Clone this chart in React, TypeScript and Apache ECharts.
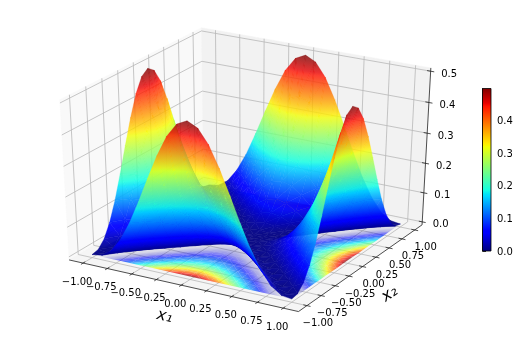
import React, { useEffect, useRef } from "react";
import * as echarts from "echarts";

// Surface heights in thousandths. One list per |x1| step of 0.1, x2 running -1..1.
const rowAt00 = [500,376,274,191,126,77,42,19,6,1,0,1,6,19,42,77,126,191,274,376,500];
const rowAt01 = [484,363,262,180,117,69,36,14,3,0,1,0,3,14,36,69,117,180,262,363,484];
const rowAt02 = [440,324,228,151,92,49,20,5,0,3,6,3,0,5,20,49,92,151,228,324,440];
const rowAt03 = [373,267,180,111,60,26,6,0,5,14,19,14,5,0,6,26,60,111,180,267,373];
const rowAt04 = [294,201,126,69,30,7,0,6,20,36,42,36,20,6,0,7,30,69,126,201,294];
const rowAt05 = [211,135,75,33,8,0,7,26,49,69,77,69,49,26,7,0,8,33,75,135,211];
const rowAt06 = [134,77,34,9,0,8,30,60,92,117,126,117,92,60,30,8,0,9,34,77,134];
const rowAt07 = [72,34,9,0,9,33,69,111,151,180,191,180,151,111,69,33,9,0,9,34,72];
const rowAt08 = [28,8,0,9,34,75,126,180,228,262,274,262,228,180,126,75,34,9,0,8,28];
const rowAt09 = [5,0,8,34,77,135,201,267,324,363,376,363,324,267,201,135,77,34,8,0,5];
const rowAt10 = [0,5,28,72,134,211,294,373,440,484,500,484,440,373,294,211,134,72,28,5,0];
const zRows = [rowAt10,rowAt09,rowAt08,rowAt07,rowAt06,rowAt05,rowAt04,rowAt03,rowAt02,rowAt01,rowAt00,
  rowAt01,rowAt02,rowAt03,rowAt04,rowAt05,rowAt06,rowAt07,rowAt08,rowAt09,rowAt10];
const gridValues = [-1,-0.9,-0.8,-0.7,-0.6,-0.5,-0.4,-0.3,-0.2,-0.1,0,0.1,0.2,0.3,0.4,0.5,0.6,0.7,0.8,0.9,1];

const xyTicks = [-1,-0.75,-0.5,-0.25,0,0.25,0.5,0.75,1];
const xyTickLabels = ["\u22121.00","\u22120.75","\u22120.50","\u22120.25","0.00","0.25","0.50","0.75","1.00"];
const zTicks = [0,0.1,0.2,0.3,0.4,0.5];
const zTickLabels = ["0.0","0.1","0.2","0.3","0.4","0.5"];
const colorbarTicks = [0,0.1,0.2,0.3,0.4];
const zMax = 0.4985;

const FONT = "'DejaVu Sans'";

// 3D view (elevation 30, azimuth -60)
const depth = (bx: number, by: number, bz: number) => 0.433013 * bx - 0.75 * by + 0.5 * bz;
const project = (bx: number, by: number, bz: number) => {
  const a = 0.866025 * bx + 0.5 * by;
  const b = -0.25 * bx + 0.433013 * by + 0.866025 * bz;
  const f = 10 / (10 - depth(bx, by, bz));
  return [248.3 + 264.8 * a * f, 164.8 - 183 * b * f];
};
const boxXY = (v: number) => v / 2.292;
const boxZ = (z: number) => (z + 0.0104) / 0.5208 - 0.5;

const ramp = (t: number, knots: number[][]) => {
  if (t <= knots[0][0]) return knots[0][1];
  for (let i = 1; i < knots.length; i++) {
    if (t <= knots[i][0]) {
      const [t0, v0] = knots[i - 1];
      const [t1, v1] = knots[i];
      return v0 + ((v1 - v0) * (t - t0)) / (t1 - t0);
    }
  }
  return knots[knots.length - 1][1];
};
const R = [[0,0],[0.35,0],[0.66,1],[0.89,1],[1,0.5]];
const G = [[0,0],[0.125,0],[0.375,1],[0.64,1],[0.91,0],[1,0]];
const B = [[0,0.5],[0.11,1],[0.34,1],[0.65,0],[1,0]];
const jetKnots = [0,0.11,0.125,0.34,0.35,0.375,0.64,0.65,0.66,0.89,0.91,1];
const jetColor = (t: number, alpha: number) =>
  `rgba(${Math.round(255 * ramp(t, R))},${Math.round(255 * ramp(t, G))},${Math.round(255 * ramp(t, B))},${alpha})`;

const surfaceAlpha = (z: number) => (z < 0.08 ? 0.94 : z > 0.25 ? 0.8 : 0.94 - (0.14 * (z - 0.08)) / 0.17);
const floorAlpha = (z: number) => (z < 0.08 ? 0.06 + (0.64 * z) / 0.08 : 0.7);

type Tri = { pts: number[][]; zs: number[]; d: number };

const triFill = (t: Tri, alphaOf: (z: number) => number, extra: number[]) => {
  const [p0, p1, p2] = t.pts;
  const [z0, z1, z2] = t.zs;
  const det = (p1[0] - p0[0]) * (p2[1] - p0[1]) - (p2[0] - p0[0]) * (p1[1] - p0[1]);
  const zlo = Math.min(z0, z1, z2);
  const zhi = Math.max(z0, z1, z2);
  if (Math.abs(det) < 1e-6 || zhi - zlo < 1e-6) return jetColor(((z0 + z1 + z2) / 3) / zMax, alphaOf((z0 + z1 + z2) / 3));
  const gx = ((z1 - z0) * (p2[1] - p0[1]) - (z2 - z0) * (p1[1] - p0[1])) / det;
  const gy = ((z2 - z0) * (p1[0] - p0[0]) - (z1 - z0) * (p2[0] - p0[0])) / det;
  const g2 = gx * gx + gy * gy;
  const lo = t.pts[t.zs.indexOf(zlo)];
  const span = zhi - zlo;
  const end = [lo[0] + (gx * span) / g2, lo[1] + (gy * span) / g2];
  const marks = [zlo, zhi];
  jetKnots.forEach((k) => {
    const v = k * zMax;
    if (v > zlo && v < zhi) marks.push(v);
  });
  extra.forEach((v) => {
    if (v > zlo && v < zhi) marks.push(v);
  });
  marks.sort((a, b) => a - b);
  const stops = marks.map((v) => ({ offset: (v - zlo) / span, color: jetColor(v / zMax, alphaOf(v)) }));
  return new (echarts.graphic as any).LinearGradient(lo[0], lo[1], end[0], end[1], stops, true);
};

const buildTris = (flat: boolean) => {
  const out: Tri[] = [];
  const n = gridValues.length;
  const vertex = (ix: number, iy: number) => {
    const z = zRows[iy][ix] / 1000;
    const bx = boxXY(gridValues[ix]);
    const by = boxXY(gridValues[iy]);
    const bz = boxZ(flat ? 0 : z);
    return { p: project(bx, by, bz), z, d: depth(bx, by, bz) };
  };
  for (let iy = 0; iy < n - 1; iy++) {
    for (let ix = 0; ix < n - 1; ix++) {
      const a = vertex(ix, iy);
      const b = vertex(ix + 1, iy);
      const c = vertex(ix + 1, iy + 1);
      const e = vertex(ix, iy + 1);
      // split each cell along its flatter diagonal so the valley creases stay sharp
      const split = Math.abs(a.z - c.z) <= Math.abs(b.z - e.z);
      const groups = split ? [[a, b, c], [a, c, e]] : [[a, b, e], [b, c, e]];
      groups.forEach((g) =>
        out.push({ pts: g.map((v) => v.p), zs: g.map((v) => v.z), d: (g[0].d + g[1].d + g[2].d) / 3 })
      );
    }
  }
  return out.sort((u, v) => u.d - v.d);
};

const line3 = (a: number[], b: number[], stroke: string, lineWidth: number) => {
  const p = project(a[0], a[1], a[2]);
  const q = project(b[0], b[1], b[2]);
  return { type: "line", shape: { x1: p[0], y1: p[1], x2: q[0], y2: q[1] }, style: { stroke, lineWidth, fill: "none" } };
};

const buildBackdrop = () => {
  const e: any[] = [];
  const poly = (c: number[][], fill: string) =>
    e.push({ type: "polygon", shape: { points: c.map((v) => project(v[0], v[1], v[2])) }, style: { fill, stroke: fill, lineWidth: 0.5 } });
  poly([[-0.5,-0.5,-0.5],[-0.5,0.5,-0.5],[-0.5,0.5,0.5],[-0.5,-0.5,0.5]], "#f9f9f9");
  poly([[-0.5,0.5,-0.5],[0.5,0.5,-0.5],[0.5,0.5,0.5],[-0.5,0.5,0.5]], "#f2f2f2");
  poly([[-0.5,-0.5,-0.5],[0.5,-0.5,-0.5],[0.5,0.5,-0.5],[-0.5,0.5,-0.5]], "#f5f5f5");
  const gridC = "#b8b8b8";
  xyTicks.forEach((v) => {
    const t = boxXY(v);
    e.push(line3([t,-0.5,-0.5],[t,0.5,-0.5],gridC,0.8));
    e.push(line3([t,0.5,-0.5],[t,0.5,0.5],gridC,0.8));
    e.push(line3([0.5,t,-0.5],[-0.5,t,-0.5],gridC,0.8));
    e.push(line3([-0.5,t,-0.5],[-0.5,t,0.5],gridC,0.8));
  });
  zTicks.forEach((v) => {
    const t = boxZ(v);
    e.push(line3([-0.5,-0.5,t],[-0.5,0.5,t],gridC,0.8));
    e.push(line3([-0.5,0.5,t],[0.5,0.5,t],gridC,0.8));
  });
  const ax = "#222";
  e.push(line3([-0.5,-0.5,-0.5],[0.5,-0.5,-0.5],ax,0.8));
  e.push(line3([0.5,-0.5,-0.5],[0.5,0.5,-0.5],ax,0.8));
  e.push(line3([0.5,0.5,-0.5],[0.5,0.5,0.5],ax,0.8));
  xyTicks.forEach((v) => {
    const t = boxXY(v);
    e.push(line3([t,-0.515,-0.5],[t,-0.485,-0.5],ax,0.8));
    e.push(line3([0.515,t,-0.5],[0.485,t,-0.5],ax,0.8));
  });
  zTicks.forEach((v) => {
    const t = boxZ(v);
    e.push(line3([0.515,0.5,t],[0.485,0.5,t],ax,0.8));
  });
  return e;
};

const label = (text: string, x: number, y: number, align: string) => ({
  type: "text",
  style: { text, x, y, fill: "#000", fontSize: 10, fontFamily: FONT, textAlign: align, textVerticalAlign: "middle" },
});

const buildLabels = () => {
  const e: any[] = [];
  xyTicks.forEach((v, i) => {
    const t = boxXY(v);
    const p = project(t, -0.5, -0.5);
    e.push(label(xyTickLabels[i], p[0] - 6, p[1] + 18, "center"));
    const q = project(0.5, t, -0.5);
    e.push(label(xyTickLabels[i], q[0] + 11, q[1] + 17, "center"));
  });
  zTicks.forEach((v, i) => {
    const p = project(0.5, 0.5, boxZ(v));
    e.push(label(zTickLabels[i], p[0] + 10.5, p[1] + 2, "left"));
  });
  const axisName = (text: string, x: number, y: number, rotation: number) => ({
    type: "text",
    x,
    y,
    rotation,
    style: { text, x: 0, y: 0, fill: "#000", fontSize: 16, fontFamily: FONT, fontStyle: "italic", textAlign: "center", textVerticalAlign: "middle" },
  });
  e.push(axisName("x\u2081", 165, 315, -0.22));
  e.push(axisName("x\u2082", 389, 293, 0.6));
  return e;
};

const triSeries = (tris: Tri[], alphaOf: (z: number) => number, extra: number[], strokeWidth: number) => ({
  type: "custom",
  coordinateSystem: "none",
  silent: true,
  clip: false,
  progressive: 0,
  data: tris.map((_, i) => [i]),
  renderItem: (params: any) => {
    const t = tris[params.dataIndex];
    const fill = triFill(t, alphaOf, extra);
    return {
      type: "polygon",
      shape: { points: t.pts },
      style: { fill, stroke: fill, lineWidth: strokeWidth },
    };
  },
});

const elementSeries = (list: any[]) => ({
  type: "custom",
  coordinateSystem: "none",
  silent: true,
  clip: false,
  progressive: 0,
  data: list.map((_, i) => [i]),
  renderItem: (params: any) => list[params.dataIndex],
});

export default function App() {
  const ref = useRef<HTMLDivElement>(null);
  useEffect(() => {
    const chart = echarts.init(ref.current!, undefined, { renderer: "svg" });
    const barStops: any[] = [];
    jetKnots.forEach((k) => barStops.push({ offset: k, color: jetColor(k, 1) }));
    chart.setOption({
      animation: false,
      grid: { left: 482.5, top: 88.5, width: 8.5, height: 162.5 },
      xAxis: { type: "value", min: 0, max: 1, show: false },
      yAxis: {
        type: "value",
        position: "right",
        min: 0,
        max: zMax,
        splitLine: { show: false },
        axisLine: { show: true, lineStyle: { color: "#000", width: 0.8 } },
        axisTick: { show: true, length: 3.5, lineStyle: { color: "#000", width: 0.8 }, customValues: colorbarTicks },
        axisLabel: {
          color: "#000",
          fontSize: 10,
          fontFamily: FONT,
          margin: 6,
          customValues: colorbarTicks,
          formatter: (v: number) => v.toFixed(1),
        },
      },
      series: [
        elementSeries(buildBackdrop()),
        triSeries(buildTris(true), floorAlpha, [0.08], 0),
        triSeries(buildTris(false), surfaceAlpha, [0.08, 0.25], 0.35),
        elementSeries(buildLabels()),
        {
          type: "custom",
          coordinateSystem: "cartesian2d",
          silent: true,
          data: [[0, 0]],
          renderItem: (_: any, api: any) => {
            const a = api.coord([0, 0]);
            const b = api.coord([1, zMax]);
            return {
              type: "rect",
              shape: { x: a[0], y: b[1], width: b[0] - a[0], height: a[1] - b[1] },
              style: {
                fill: new (echarts.graphic as any).LinearGradient(0, 1, 0, 0, barStops),
                stroke: "#000",
                lineWidth: 0.8,
              },
            };
          },
        },
      ],
    });
    return () => chart.dispose();
  }, []);
  return <div ref={ref} style={{ position: "fixed", left: 0, top: 0, width: 519, height: 340 }} />;
}
